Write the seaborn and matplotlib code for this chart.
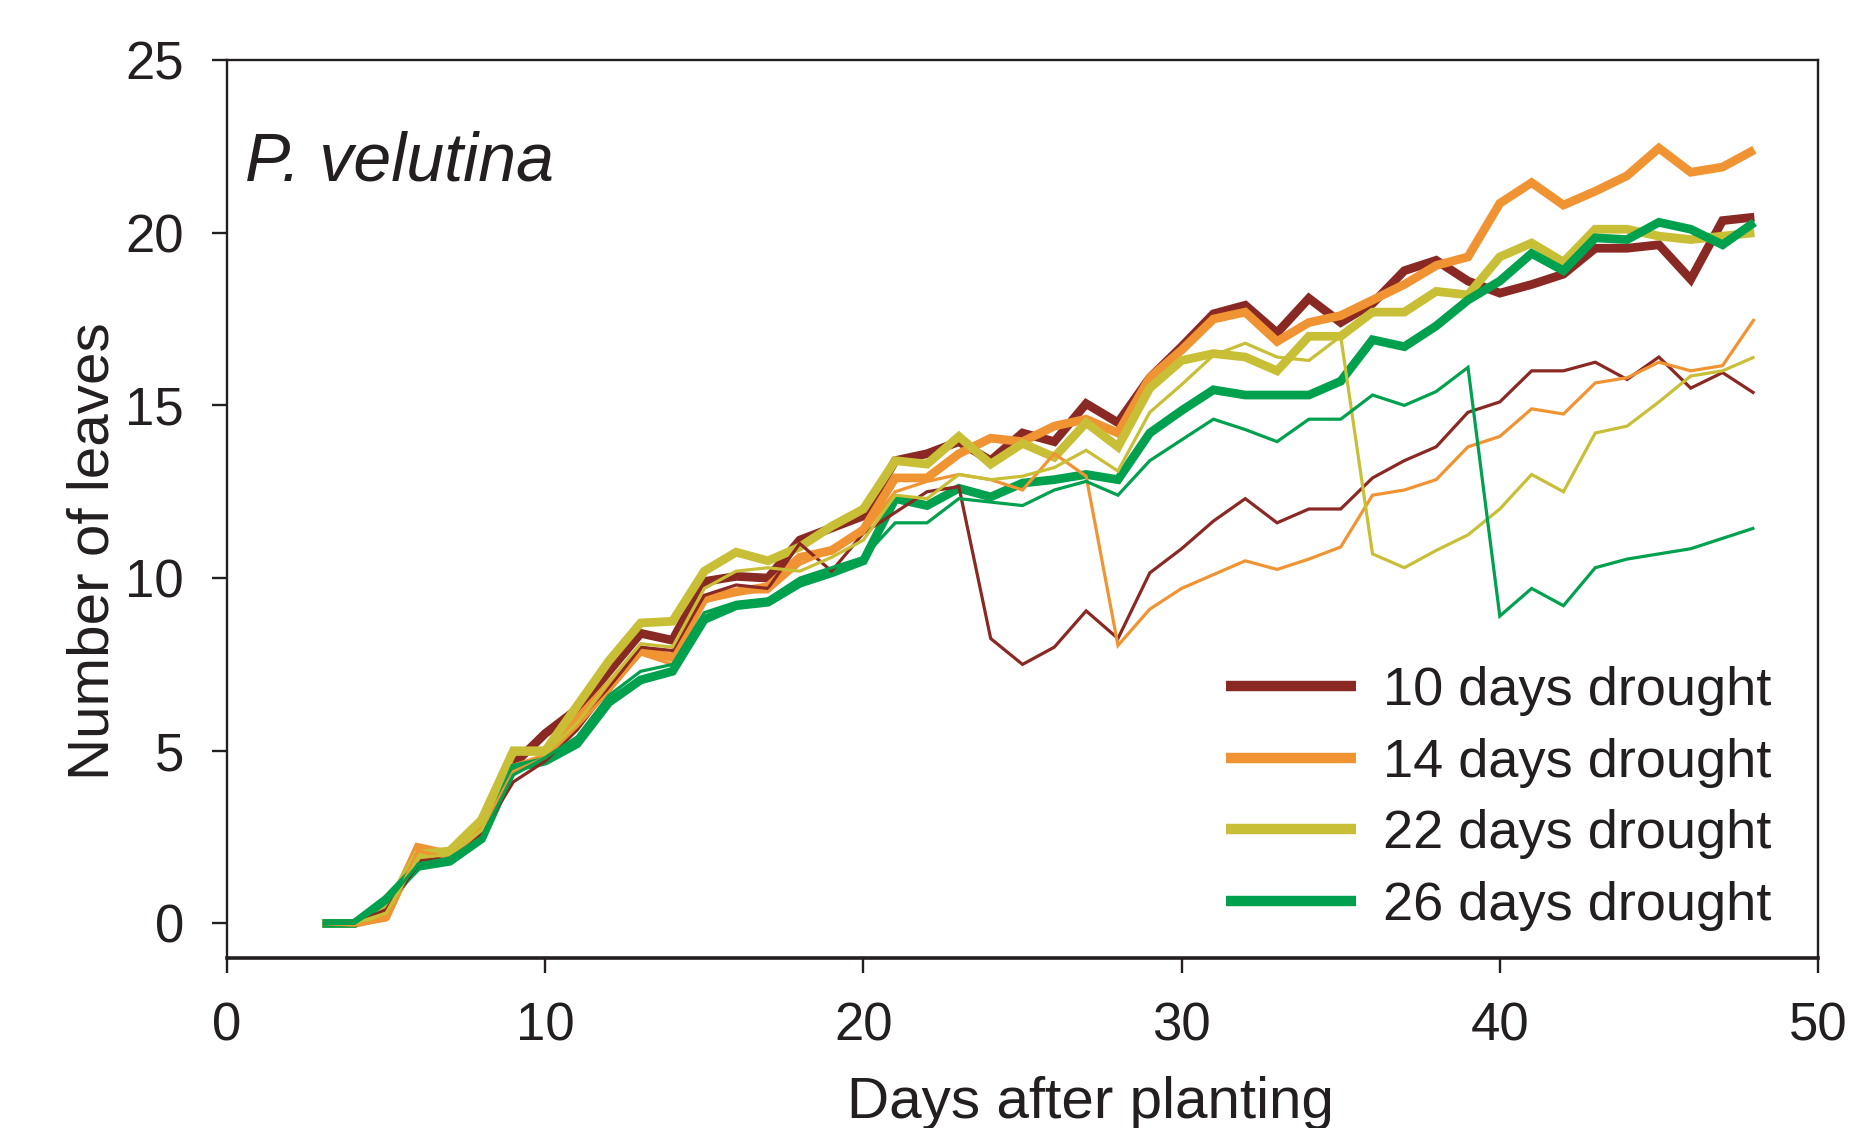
import pandas as pd
import seaborn as sns
import matplotlib.pyplot as plt
from matplotlib.lines import Line2D

# dias após o plantio
dias = list(range(3, 49))

treatments = ['10 days drought', '14 days drought', '22 days drought', '26 days drought']
cores = ['#8a2923', '#f09433', '#c8bf36', '#00a14e']

# linhas grossas
brown_thick = [0, 0, 0.5, 1.8, 2.0, 2.8, 4.6, 5.5, 6.2, 7.3,
               8.4, 8.2, 9.9, 10.05, 10.0, 11.1, 11.45, 11.8, 13.4, 13.6,
               13.95, 13.4, 14.2, 13.95, 15.05, 14.5, 15.8, 16.7, 17.65, 17.9,
               17.1, 18.1, 17.4, 17.95, 18.9, 19.2, 18.6, 18.25, 18.5, 18.8,
               19.55, 19.55, 19.65, 18.65, 20.35, 20.45]
orange_thick = [0, 0, 0.2, 2.2, 2.0, 2.9, 4.5, 4.8, 5.9, 6.9,
                7.9, 7.7, 9.4, 9.6, 9.75, 10.6, 10.8, 11.4, 12.9, 12.9,
                13.6, 14.05, 13.95, 14.4, 14.6, 14.2, 15.8, 16.6, 17.5, 17.7,
                16.85, 17.4, 17.6, 18.05, 18.5, 19.05, 19.3, 20.85, 21.45, 20.8,
                21.2, 21.65, 22.45, 21.75, 21.9, 22.4]
yellow_thick = [0, 0, 0.4, 2.0, 2.1, 3.0, 5.0, 5.0, 6.3, 7.6,
                8.7, 8.75, 10.2, 10.75, 10.5, 10.9, 11.5, 12.0, 13.4, 13.3,
                14.1, 13.3, 13.9, 13.5, 14.5, 13.8, 15.5, 16.3, 16.5, 16.4,
                16.0, 17.0, 17.0, 17.7, 17.7, 18.3, 18.2, 19.3, 19.7, 19.15,
                20.1, 20.1, 19.9, 19.8, 19.9, 20.0]
green_thick = [0, 0, 0.7, 1.65, 1.8, 2.45, 4.5, 4.7, 5.2, 6.4,
               7.05, 7.3, 8.8, 9.2, 9.3, 9.85, 10.15, 10.5, 12.3, 12.1,
               12.6, 12.35, 12.75, 12.85, 13.0, 12.85, 14.2, 14.85, 15.45, 15.3,
               15.3, 15.3, 15.7, 16.9, 16.7, 17.3, 18.05, 18.6, 19.4, 18.9,
               19.85, 19.8, 20.3, 20.1, 19.65, 20.3]

# linhas finas
brown_thin = [0, 0, 0.4, 1.7, 1.9, 2.6, 4.1, 4.7, 5.6, 6.8,
              8.0, 7.9, 9.5, 9.8, 9.7, 11.0, 10.2, 11.3, 11.9, 12.5,
              12.65, 8.25, 7.5, 8.0, 9.05, 8.25, 10.15, 10.85, 11.65, 12.3,
              11.6, 12.0, 12.0, 12.9, 13.4, 13.8, 14.8, 15.1, 16.0, 16.0,
              16.25, 15.75, 16.4, 15.5, 15.95, 15.35]
orange_thin = [0, -0.05, 0.1, 2.1, 1.9, 2.7, 4.4, 4.8, 5.7, 6.7,
               7.8, 7.5, 9.3, 9.6, 9.6, 10.4, 10.8, 11.3, 12.5, 12.8,
               13.0, 12.85, 12.55, 13.6, 12.95, 8.05, 9.1, 9.7, 10.1, 10.5,
               10.25, 10.55, 10.9, 12.4, 12.55, 12.85, 13.8, 14.1, 14.9, 14.75,
               15.65, 15.8, 16.25, 16.0, 16.15, 17.5]
yellow_thin = [0, 0, 0.3, 1.9, 2.0, 2.7, 4.9, 4.9, 5.8, 7.0,
               8.1, 8.0, 9.7, 10.2, 10.3, 10.2, 10.6, 11.1, 12.4, 12.3,
               13.0, 12.85, 12.95, 13.2, 13.7, 13.1, 14.8, 15.6, 16.45, 16.8,
               16.4, 16.3, 17.0, 10.7, 10.3, 10.8, 11.25, 12.0, 13.0, 12.5,
               14.2, 14.4, 15.1, 15.85, 16.0, 16.4]
green_thin = [0, 0, 0.6, 1.7, 1.9, 2.5, 4.3, 4.8, 5.4, 6.6,
              7.3, 7.5, 9.0, 9.3, 9.4, 10.0, 10.3, 10.6, 11.6, 11.6,
              12.3, 12.2, 12.1, 12.55, 12.8, 12.4, 13.4, 14.0, 14.6, 14.3,
              13.95, 14.6, 14.6, 15.3, 15.0, 15.4, 16.1, 8.9, 9.7, 9.2,
              10.3, 10.55, 10.7, 10.85, 11.15, 11.45]


def montar(series):
    partes = []
    for trat, valores in zip(treatments, series):
        partes.append(pd.DataFrame({'dia': dias, 'folhas': valores, 'tratamento': trat}))
    return pd.concat(partes, ignore_index=True)


df_grosso = montar([brown_thick, orange_thick, yellow_thick, green_thick])
df_fino = montar([brown_thin, orange_thin, yellow_thin, green_thin])

sns.set_style('ticks')
plt.rcParams['font.family'] = ['Liberation Sans', 'DejaVu Sans']

fig, ax = plt.subplots(figsize=(18.55, 11.28), dpi=100)
fig.subplots_adjust(left=227 / 1855, right=1818 / 1855, bottom=1 - 958 / 1128, top=1 - 60 / 1128)

paleta = dict(zip(treatments, cores))
sns.lineplot(data=df_grosso, x='dia', y='folhas', hue='tratamento', palette=paleta,
             hue_order=treatments, linewidth=6.3, legend=False, ax=ax,
             solid_joinstyle='miter', solid_capstyle='butt')
sns.lineplot(data=df_fino, x='dia', y='folhas', hue='tratamento', palette=paleta,
             hue_order=treatments, linewidth=2.3, legend=False, ax=ax,
             solid_joinstyle='miter', solid_capstyle='butt')

ax.set_xlim(0, 50)
ax.set_ylim(-1, 25)
ax.set_xticks([0, 10, 20, 30, 40, 50])
ax.set_yticks([0, 5, 10, 15, 20, 25])
ax.tick_params(axis='both', direction='out', length=11, width=1.7, labelsize=38, pad=20, color='#231f20',
               labelcolor='#231f20')

for lado in ['left', 'right', 'top', 'bottom']:
    ax.spines[lado].set_visible(True)
    ax.spines[lado].set_linewidth(1.7)
    ax.spines[lado].set_color('#231f20')
ax.spines['bottom'].set_linewidth(2.6)

ax.set_xlabel('Days after planting', fontsize=42, color='#231f20', va='baseline')
ax.xaxis.set_label_coords(0.543, -0.178)
ax.set_ylabel('Number of leaves', fontsize=42, color='#231f20')
ax.yaxis.set_label_coords(-0.067, 0.453)

ax.text(0.011, 0.866, 'P. velutina', transform=ax.transAxes, fontsize=49, style='italic',
        color='#231f20', va='baseline', ha='left')

handles = [Line2D([0], [0], color=c, lw=7.5, solid_capstyle='butt') for c in cores]
ax.legend(handles, treatments, loc='lower right', bbox_to_anchor=(0.9705, 0.03), frameon=False,
          fontsize=39, handlelength=2.4, handletextpad=0.5, labelspacing=0.4,
          borderpad=0, borderaxespad=0, labelcolor='#231f20')

plt.savefig('out.png', dpi=100)
